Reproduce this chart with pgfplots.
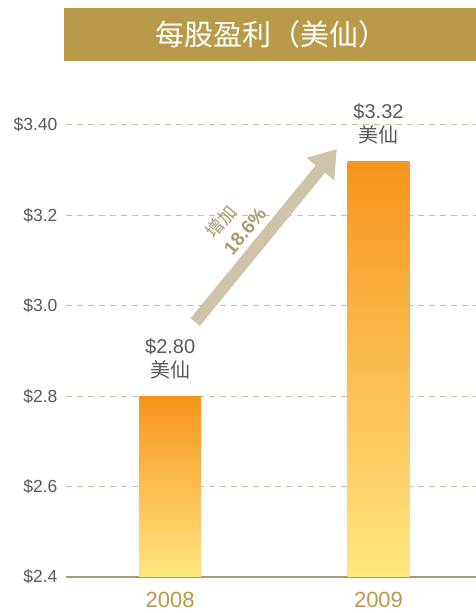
\documentclass[border=0pt]{standalone}
\usepackage{pgfplots}
\pgfplotsset{compat=1.18}
\usepackage{fontspec}
\setmainfont{Liberation Sans}
\newfontfamily\cjk{Noto Sans CJK TC}
\usetikzlibrary{arrows.meta}
\definecolor{titlec}{HTML}{B89A4A}
\definecolor{goldtxt}{HTML}{B89A4A}
\definecolor{axisc}{HTML}{AA9B6C}
\definecolor{gridc}{HTML}{C8BFA5}
\definecolor{arrowc}{HTML}{CEC4A9}
\definecolor{arrowtxt}{HTML}{A8996E}
\definecolor{labc}{HTML}{58595B}
\definecolor{bartop}{HTML}{F7941D}
\definecolor{barbot}{HTML}{FFE680}
\begin{document}
\begin{tikzpicture}[x=1pt,y=1pt]
\useasboundingbox (0,0) rectangle (476,613);
\fill[titlec] (64,552) rectangle (476,605);
\node[text=white, font=\fontsize{29}{32}\selectfont\cjk] at (271,579) {每股盈利（美仙）};
\begin{axis}[
  at={(66pt,36pt)}, anchor=south west,
  scale only axis, width=410pt, height=452pt,
  xmin=-0.5, xmax=1.468, ymin=2.4, ymax=3.4,
  axis x line=bottom, axis y line=left,
  x axis line style={-, draw=axisc, line width=2pt},
  y axis line style={draw=none},
  major tick length=0pt,
  xtick={0,1}, xticklabels={2008,2009},
  ytick={2.4,2.6,2.8,3.0,3.2,3.4},
  yticklabels={\$2.4,\$2.6,\$2.8,\$3.0,\$3.2,\$3.40},
  /pgf/number format/assume math mode=true,
  yticklabel style={text=labc, font=\fontsize{17.5}{20}\selectfont, anchor=east, xshift=-5pt},
  xticklabel style={text=goldtxt, font=\fontsize{22}{25}\selectfont, yshift=-12pt},
  ymajorgrids, grid style={draw=gridc, line width=1pt, dash pattern=on 6pt off 5pt},
  clip=false,
  nodes near coords, point meta=explicit symbolic,
  every node near coord/.append style={text=labc, font=\fontsize{20}{24}\selectfont, align=center, yshift=13pt},
]
\addplot[ybar, bar width=62pt, draw=none, top color=bartop, bottom color=barbot]
  coordinates {(0,2.80) [\$2.80\\{\cjk 美仙}]};
\addplot[ybar, bar width=62pt, draw=none, top color=bartop, bottom color=barbot]
  coordinates {(1,3.32) [\$3.32\\{\cjk 美仙}]};
\draw[line width=12pt, draw=arrowc, -{Triangle[width=34pt,length=26pt]}] (axis cs:0.12,2.964) -- (axis cs:0.80,3.347);
\node[rotate=50, anchor=west, inner sep=0pt, text=arrowtxt, font=\fontsize{18}{20}\selectfont\cjk] at (axis cs:0.189,3.155) {增加};
\node[rotate=50, anchor=west, inner sep=0pt, text=arrowtxt, font=\fontsize{19}{20}\selectfont\bfseries] at (axis cs:0.275,3.119) {18.6\%};
\end{axis}
\end{tikzpicture}
\end{document}
